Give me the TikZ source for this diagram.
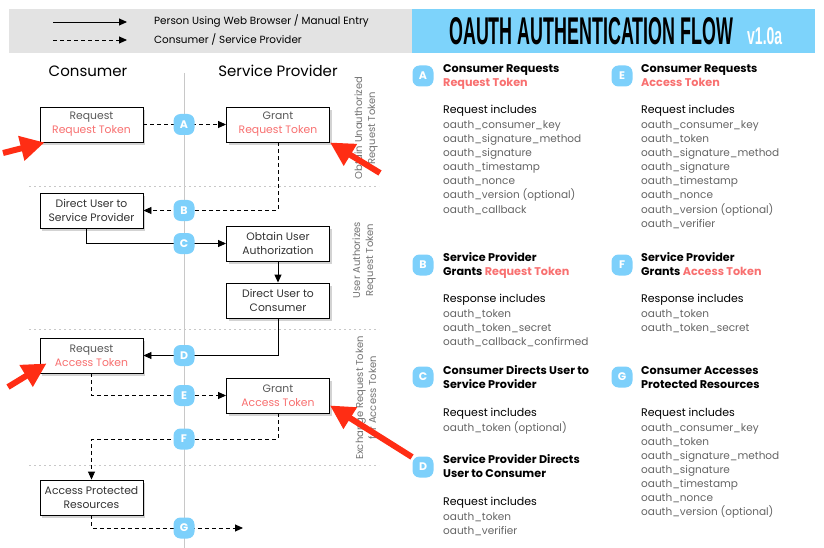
\documentclass[tikz,border=0pt]{standalone}
\usepackage{fontspec}
\setmainfont{Poppins}
\newfontfamily\headfont{Liberation Sans}
\usepackage{graphicx}
\usetikzlibrary{arrows.meta, positioning, calc, shadows}
\definecolor{legendgray}{RGB}{227,227,227}
\definecolor{titleblue}{RGB}{125,211,251}
\definecolor{badgeblue}{RGB}{125,208,251}
\definecolor{tokenred}{RGB}{248,112,112}
\definecolor{arrowred}{RGB}{255,45,20}
\definecolor{itemgray}{RGB}{100,100,100}
\definecolor{linegray}{RGB}{200,200,200}
\tikzset{
  stepbox/.style={draw, line width=0.9pt, fill=white, minimum width=103pt, minimum height=35pt,
    inner sep=0pt, align=center, text=black!80, font=\fontsize{10.8}{14}\selectfont,
    drop shadow={shadow xshift=2pt, shadow yshift=-3pt, opacity=0.35}},
  badge/.style={fill=badgeblue, rounded corners=7pt, minimum size=21pt, inner sep=0pt,
    text=white, font=\bfseries\fontsize{11}{11}\selectfont},
  flow/.style={-{Triangle[length=8pt,width=7pt]}, line width=0.9pt},
  dashflow/.style={flow, dash pattern=on 4pt off 3pt},
  pointer/.style={arrowred, line width=6pt, -{Triangle[length=24pt,width=24pt]}},
  sidelabel/.style={rotate=90, align=center, text=black!55, font=\fontsize{10}{13}\selectfont},
  infohead/.style={anchor=base west, inner sep=0pt, font=\bfseries\fontsize{11.2}{12}\selectfont},
  incl/.style={anchor=base west, inner sep=0pt, font=\fontsize{11}{12}\selectfont},
  item/.style={incl, text=itemgray, font=\fontsize{10.5}{12}\selectfont}
}

\begin{document}
\begin{tikzpicture}[x=1pt, y=-1pt]
  \useasboundingbox (0,0) rectangle (824,548);
  % Legend
  \fill[legendgray] (9,9) rectangle (412,53);
  \coordinate (ls1) at (53,22);  \coordinate (le1) at (127,22);
  \coordinate (ls2) at (53,40);  \coordinate (le2) at (127,40);
  \draw[flow] (ls1) -- (le1);
  \draw[dashflow] (ls2) -- (le2);
  \node[incl, font=\fontsize{10.4}{11}\selectfont] (leg1) at (154,25) {Person Using Web Browser / Manual Entry};
  \node[incl, font=\fontsize{10.4}{11}\selectfont] (leg2) at (154,44) {Consumer / Service Provider};
  % Title
  \fill[titleblue] (412,9) rectangle (815,53);
  \node[anchor=base west, inner sep=0pt] (title) at (449,45)
    {\resizebox{284pt}{27pt}{\headfont\bfseries OAUTH AUTHENTICATION FLOW}};
  \node[anchor=base west, inner sep=0pt, text=white] (version) at (747,45)
    {\resizebox{35pt}{17pt}{\headfont\bfseries v1.0a}};

  % Columns
  \node[anchor=base, font=\fontsize{15}{18}\selectfont] (consumer) at (88,77) {Consumer};
  \node[anchor=base, font=\fontsize{15}{18}\selectfont] (provider) at (278,77) {Service Provider};
  \coordinate (spine) at (184,73);
  \draw[linegray, line width=1pt] (spine) -- (184,548);
  \foreach \y in {186,329,465}
    \draw[linegray, line width=0.8pt, dash pattern=on 2pt off 3pt] (29,\y) -- (379,\y);

  % Phase labels
  \node[sidelabel] (ph1) at (366,128) {Obtain Unauthorized\\Request Token};
  \node[sidelabel] (ph2) at (364,260) {User Authorizes\\Request Token};
  \node[sidelabel] (ph3) at (366,398) {Exchange Request Token\\for Access Token};

  % Steps
  \node[stepbox] (reqRT) at (91.5,124.5) {\textcolor{black!65}{Request}\\\textcolor{tokenred}{Request Token}};
  \node[stepbox] (grantRT) at (278,124.5) {\textcolor{black!65}{Grant}\\\textcolor{tokenred}{Request Token}};
  \node[stepbox] (dirSP) at (91.5,210.5) {Direct User to\\Service Provider};
  \node[stepbox] (obtain) at (278,243.5) {Obtain User\\Authorization};
  \node[stepbox] (dirC) at (278,300.5) {Direct User to\\Consumer};
  \node[stepbox] (reqAT) at (91.5,355.5) {\textcolor{black!65}{Request}\\\textcolor{tokenred}{Access Token}};
  \node[stepbox] (grantAT) at (278,395.5) {\textcolor{black!65}{Grant}\\\textcolor{tokenred}{Access Token}};
  \node[stepbox] (apr) at (91.5,497.5) {Access Protected\\Resources};
  \coordinate (gEnd) at (243,528);

  % Flow
  \draw[dashflow] (reqRT) -- (grantRT);
  \draw[dashflow] (grantRT.south) |- (dirSP.east);
  \draw[flow] ([xshift=-5pt]dirSP.south) |- (obtain.west);
  \draw[flow] (obtain) -- (dirC);
  \draw[flow] (dirC.south) |- (reqAT.east);
  \draw[dashflow] (reqAT.south) |- (grantAT.west);
  \draw[dashflow] (grantAT.south) -- ++(0,26) -| (apr.north);
  \draw[dashflow] (apr.south) |- (gEnd);

  % Badges
  \node[badge] (bA) at (spine |- reqRT) {A};
  \node[badge] (bB) at (spine |- dirSP) {B};
  \node[badge] (bC) at (spine |- obtain) {C};
  \node[badge] (bD) at (spine |- reqAT) {D};
  \node[badge] (bE) at (spine |- grantAT) {E};
  \node[badge] (bF) at (184,439) {F};
  \node[badge] (bG) at (spine |- gEnd) {G};

  % Pointers
  \coordinate (p1) at (3,153);
  \coordinate (p2) at (380,173);
  \coordinate (p3) at (8,387);
  \coordinate (p4) at (412,457);
  \draw[pointer] (p1) -- ([xshift=5pt]reqRT.south west);
  \draw[pointer] (p2) -- (grantRT.south east);
  \draw[pointer] (p3) -- ([xshift=7pt,yshift=10pt]reqAT.south west);
  \draw[pointer] (p4) -- ([yshift=8pt]grantAT.south east);

  % A
  \node[badge] (iA) at (423,76) {A};
  \node[infohead] (tA1) at (443,73) {Consumer Requests};
  \node[infohead, text=tokenred] (tA2) at (443,87) {Request Token};
  \node[incl] (hA) at (443,114) {Request includes};
  \foreach \t [count=\i from 0] in {oauth\_consumer\_key, oauth\_signature\_method, oauth\_signature,
      oauth\_timestamp, oauth\_nonce, oauth\_version (optional), oauth\_callback}
    \node[item] (A\i) at (443,129+14*\i) {\t};
  % B
  \node[badge] (iB) at (423,265) {B};
  \node[infohead] (tB1) at (443,261) {Service Provider};
  \node[infohead] (tB2) at (443,275) {Grants \textcolor{tokenred}{Request Token}};
  \node[incl] (hB) at (443,302) {Response includes};
  \foreach \t [count=\i from 0] in {oauth\_token, oauth\_token\_secret, oauth\_callback\_confirmed}
    \node[item] (B\i) at (443,317+14*\i) {\t};
  % C
  \node[badge] (iC) at (423,377) {C};
  \node[infohead] (tC1) at (443,374) {Consumer Directs User to};
  \node[infohead] (tC2) at (443,388) {Service Provider};
  \node[incl] (hC) at (443,416) {Request includes};
  \node[item] (C0) at (443,431) {oauth\_token (optional)};
  % D
  \node[badge] (iD) at (423,467) {D};
  \node[infohead] (tD1) at (443,463) {Service Provider Directs};
  \node[infohead] (tD2) at (443,477) {User to Consumer};
  \node[incl] (hD) at (443,505) {Request includes};
  \foreach \t [count=\i from 0] in {oauth\_token, oauth\_verifier}
    \node[item] (D\i) at (443,520+14*\i) {\t};
  % E
  \node[badge] (iE) at (622,76) {E};
  \node[infohead] (tE1) at (641,73) {Consumer Requests};
  \node[infohead, text=tokenred] (tE2) at (641,87) {Access Token};
  \node[incl] (hE) at (641,114) {Request includes};
  \foreach \t [count=\i from 0] in {oauth\_consumer\_key, oauth\_token, oauth\_signature\_method, oauth\_signature,
      oauth\_timestamp, oauth\_nonce, oauth\_version (optional), oauth\_verifier}
    \node[item] (E\i) at (641,129+14*\i) {\t};
  % F
  \node[badge] (iF) at (622,265) {F};
  \node[infohead] (tF1) at (641,261) {Service Provider};
  \node[infohead] (tF2) at (641,275) {Grants \textcolor{tokenred}{Access Token}};
  \node[incl] (hF) at (641,302) {Response includes};
  \foreach \t [count=\i from 0] in {oauth\_token, oauth\_token\_secret}
    \node[item] (F\i) at (641,317+14*\i) {\t};
  % G
  \node[badge] (iG) at (622,377) {G};
  \node[infohead] (tG1) at (641,374) {Consumer Accesses};
  \node[infohead] (tG2) at (641,388) {Protected Resources};
  \node[incl] (hG) at (641,416) {Request includes};
  \foreach \t [count=\i from 0] in {oauth\_consumer\_key, oauth\_token, oauth\_signature\_method, oauth\_signature,
      oauth\_timestamp, oauth\_nonce, oauth\_version (optional)}
    \node[item] (G\i) at (641,431+14*\i) {\t};
\end{tikzpicture}
\end{document}
